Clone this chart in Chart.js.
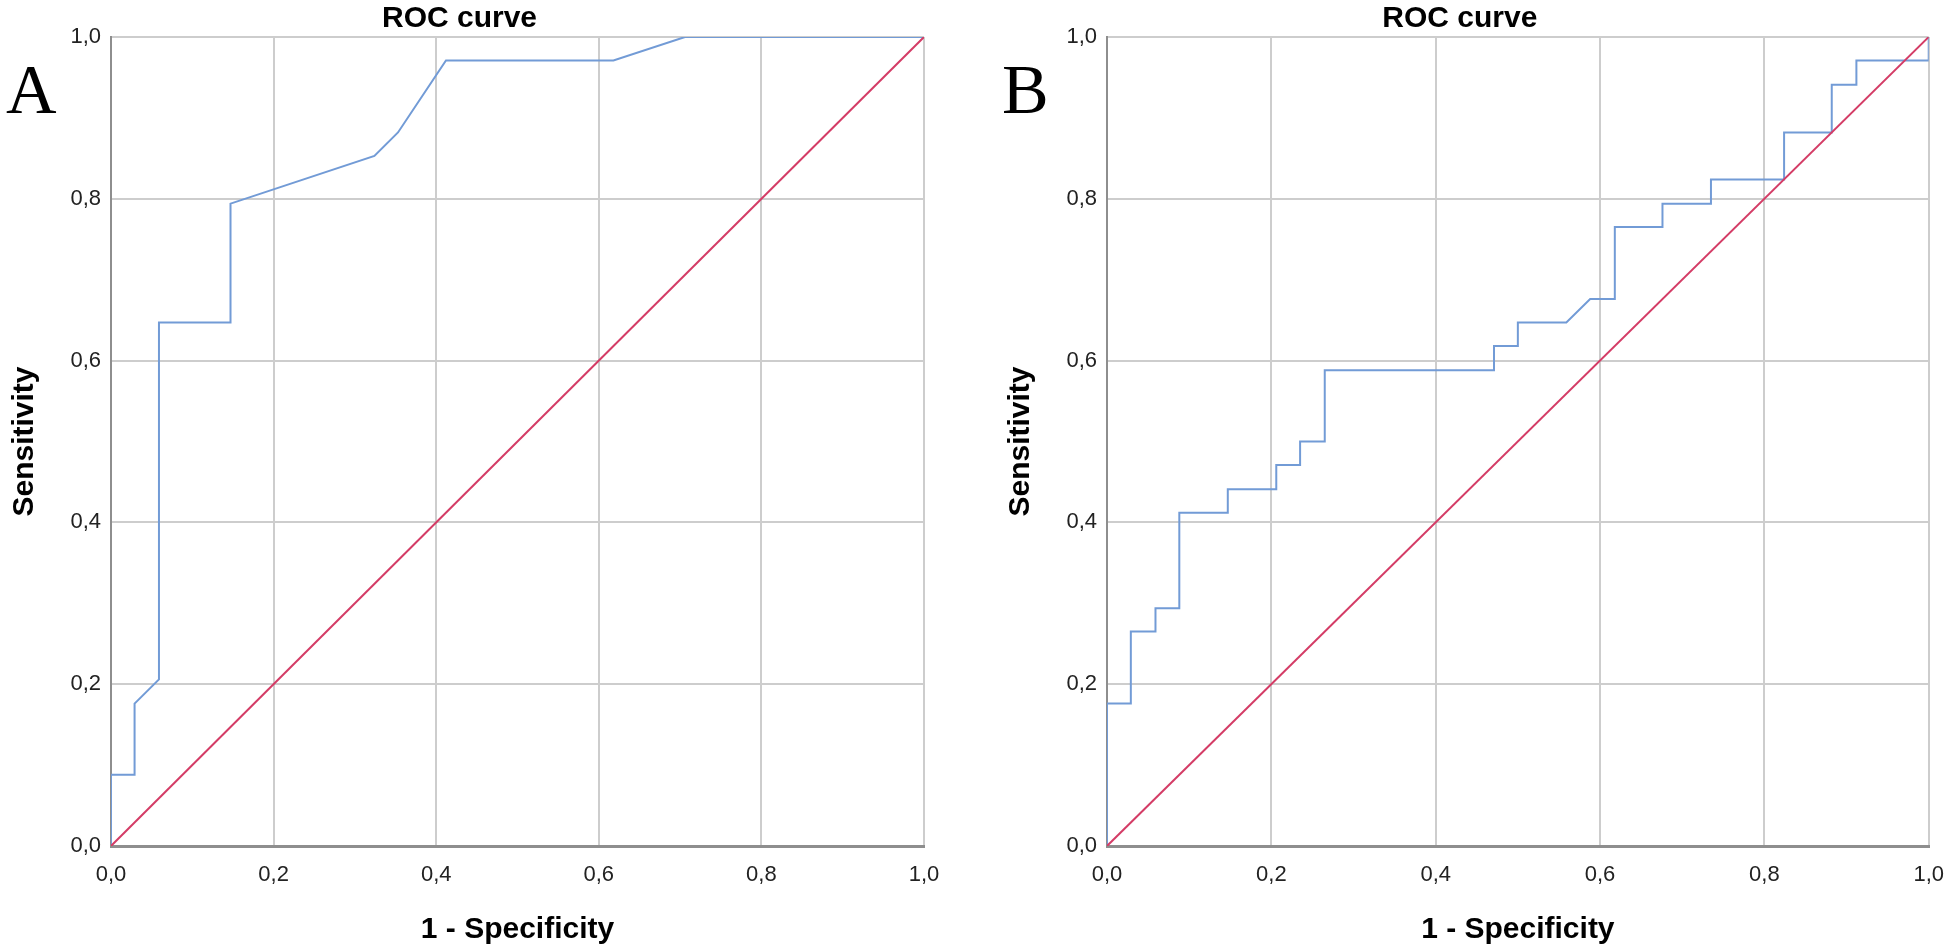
<!DOCTYPE html>
<html>
<head>
<meta charset="utf-8">
<script src="https://cdn.jsdelivr.net/npm/chart.js@4.4.1/dist/chart.umd.min.js"></script>
<style>
  html, body { margin: 0; padding: 0; background: #ffffff; }
  body { width: 1960px; height: 951px; position: relative; overflow: hidden; }
  .panel { position: absolute; top: 0; height: 951px; }
  #wrapA { left: 0; width: 960px; }
  #wrapB { left: 980px; width: 980px; }
</style>
</head>
<body>
<div class="panel" id="wrapA"><canvas id="chartA"></canvas></div>
<div class="panel" id="wrapB"><canvas id="chartB"></canvas></div>
<script>
// ---------------- DATA ----------------
const panelLetters = ['A', 'B'];
const chartTitle = 'ROC curve';
const xAxisTitle = '1 - Specificity';
const yAxisTitle = 'Sensitivity';
const tickLabels = ['0,0', '0,2', '0,4', '0,6', '0,8', '1,0'];

// Panel A ROC curve (1 - specificity, sensitivity)
const rocA_x = [0, 0, 0.029, 0.029, 0.059, 0.059, 0.147, 0.147, 0.324, 0.353, 0.412, 0.618, 0.706, 1.0];
const rocA_y = [0, 0.088, 0.088, 0.176, 0.206, 0.647, 0.647, 0.794, 0.853, 0.882, 0.971, 0.971, 1.0, 1.0];

// Panel B ROC curve
const rocB_x = [0, 0, 0.029, 0.029, 0.059, 0.059, 0.088, 0.088, 0.147, 0.147, 0.206, 0.206, 0.235, 0.235,
                0.265, 0.265, 0.471, 0.471, 0.5, 0.5, 0.559, 0.588, 0.618, 0.618, 0.676, 0.676, 0.735, 0.735,
                0.824, 0.824, 0.882, 0.882, 0.912, 0.912, 1.0, 1.0];
const rocB_y = [0, 0.176, 0.176, 0.265, 0.265, 0.294, 0.294, 0.412, 0.412, 0.441, 0.441, 0.471, 0.471, 0.5,
                0.5, 0.588, 0.588, 0.618, 0.618, 0.647, 0.647, 0.676, 0.676, 0.765, 0.765, 0.794, 0.794, 0.824,
                0.824, 0.882, 0.882, 0.941, 0.941, 0.971, 0.971, 1.0];

// Reference line
const refLine_x = [0, 1];
const refLine_y = [0, 1];

// ---------------- STYLE ----------------
const BLUE = '#729bd6';
const RED = '#d43c66';
const GRID = '#cdcdcd';
const AXIS = '#8e8e8e';
const SANS = '"Liberation Sans", Arial, sans-serif';
const SERIF = '"Liberation Serif", "Times New Roman", serif';

function toPoints(xs, ys) { return xs.map((x, i) => ({ x: x, y: ys[i] })); }

const textPlugin = {
  id: 'panelText',
  afterDraw(chart, args, opts) {
    const { ctx, chartArea: a } = chart;
    const cx = (a.left + a.right) / 2;
    const cy = (a.top + a.bottom) / 2;
    ctx.save();
    ctx.fillStyle = '#000';
    // Title
    ctx.font = 'bold 30px ' + SANS;
    ctx.textAlign = 'center';
    ctx.textBaseline = 'alphabetic';
    ctx.fillText(chartTitle, cx - 58, 27);
    // X axis title
    ctx.fillText(xAxisTitle, cx, 938);
    // Y axis title
    ctx.save();
    ctx.translate(a.left - 86, cy);
    ctx.rotate(-Math.PI / 2);
    ctx.textBaseline = 'middle';
    ctx.fillText(yAxisTitle, 0, 0);
    ctx.restore();
    // Panel letter
    ctx.font = '70px ' + SERIF;
    ctx.textAlign = 'left';
    ctx.textBaseline = 'alphabetic';
    ctx.fillText(opts.letter, a.left - 105, 113);
    ctx.restore();
  }
};

function makeChart(canvasId, letter, xs, ys, axisWidth, padRight) {
  return new Chart(document.getElementById(canvasId), {
    type: 'scatter',
    data: {
      datasets: [
        {
          label: 'Reference',
          data: toPoints(refLine_x, refLine_y),
          showLine: true,
          borderColor: RED,
          borderWidth: 2,
          pointRadius: 0,
          tension: 0,
          order: 0
        },
        {
          label: 'ROC',
          data: toPoints(xs, ys),
          showLine: true,
          borderColor: BLUE,
          borderWidth: 2,
          pointRadius: 0,
          tension: 0,
          order: 1
        }
      ]
    },
    options: {
      responsive: true,
      maintainAspectRatio: false,
      animation: false,
      events: [],
      layout: { padding: { top: 37, right: padRight, bottom: 0, left: 0 } },
      plugins: {
        legend: { display: false },
        title: { display: false },
        tooltip: { enabled: false },
        panelText: { letter: letter }
      },
      scales: {
        x: {
          type: 'linear',
          min: 0, max: 1,
          ticks: {
            stepSize: 0.2,
            padding: 16,
            color: '#222',
            font: { family: SANS, size: 22 },
            callback: (v, i) => tickLabels[i]
          },
          grid: { color: GRID, lineWidth: 2, drawTicks: false },
          border: { color: AXIS, width: 3 },
          afterFit: (s) => { s.height = 105; }
        },
        y: {
          type: 'linear',
          min: 0, max: 1,
          ticks: {
            stepSize: 0.2,
            padding: 10,
            color: '#222',
            font: { family: SANS, size: 22 },
            callback: (v, i) => tickLabels[i]
          },
          grid: { color: GRID, lineWidth: 2, drawTicks: false },
          border: { color: AXIS, width: 2 },
          afterFit: (s) => { s.width = axisWidth; }
        }
      }
    },
    plugins: [textPlugin]
  });
}

makeChart('chartA', panelLetters[0], rocA_x, rocA_y, 111, 36);
makeChart('chartB', panelLetters[1], rocB_x, rocB_y, 127, 19);
</script>
</body>
</html>
